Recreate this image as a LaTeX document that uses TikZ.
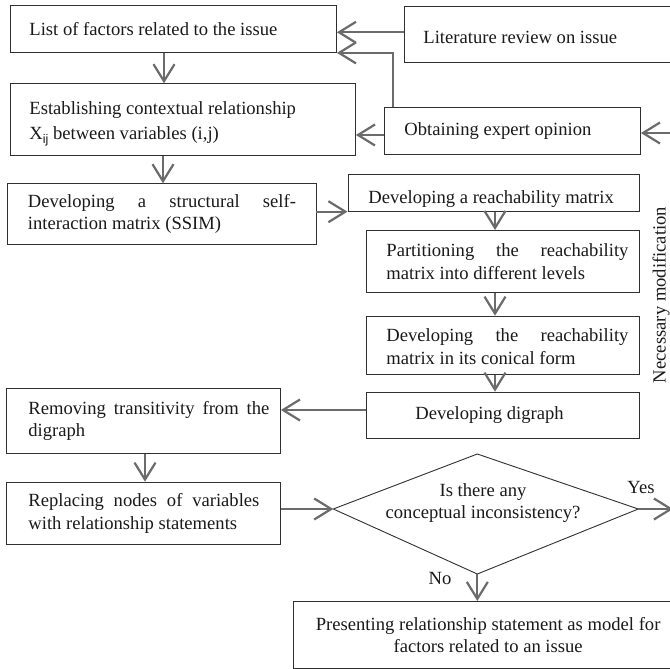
\documentclass[tikz,border=0pt]{standalone}
\usepackage{fontspec}
\setmainfont{Liberation Serif}
\setsansfont{Liberation Sans}
\usetikzlibrary{arrows.meta,calc}
\definecolor{linegray}{HTML}{6B6B6B}
\definecolor{boxline}{HTML}{303030}
\definecolor{txt}{HTML}{1A1A1A}
\newcommand{\fsz}{\fontsize{18.6}{22.3}\selectfont}
\newcommand{\fszw}{\fontsize{18.6}{23.3}\selectfont}
\newcommand{\mybox}[5]{\hspace*{#1pt}\parbox[c]{#2pt}{\vspace*{#4pt}\hyphenpenalty=10000 \exhyphenpenalty=0 \hbadness=10000 #5}\hspace*{#3pt}}
\begin{document}
\begin{tikzpicture}[x=1pt,y=-1pt,
  box/.style={draw=boxline, line width=0.9pt, inner sep=0pt, anchor=north west, font=\fsz, text=txt},
  arr/.style={draw=linegray, line width=2.2pt, -{Straight Barb[length=17pt,width=21pt]}},
  lbl/.style={font=\fsz, text=txt, inner sep=0pt}]
\useasboundingbox (0,0) rectangle (670,669);
\clip (0,0) rectangle (670,669);
\fill[white] (0,0) rectangle (670,669);

\node[box, minimum width=326.5pt, minimum height=46.5pt] (lof) at (9.5,5.5) {\mybox{19.5}{287}{20}{0}{List of factors related to the issue}};
\node[box, minimum width=286.5pt, minimum height=56.5pt] (lit) at (403.5,6) {\mybox{19.5}{247}{20}{5}{Literature review on issue}};
\node[box, minimum width=345.5pt, minimum height=71.7pt] (est) at (9.5,83.3) {\mybox{19.5}{306}{20}{8}{Establishing contextual relationship\\[2.7pt] X\raisebox{-4pt}{\fontsize{12.5}{12.5}\sffamily ij} between variables (i,j)}};
\node[box, minimum width=256pt, minimum height=46.5pt] (obt) at (384,107.5) {\mybox{20}{216}{20}{0}{Obtaining expert opinion}};
\node[box, minimum width=309pt, minimum height=61pt] (ssim) at (6.5,183.3) {\mybox{21}{268}{20}{0}{Developing a structural self-interaction matrix (SSIM)}};
\node[box, minimum width=291.5pt, minimum height=36.7pt] (reach) at (347.5,174) {\mybox{20.5}{271}{0}{12}{Developing a reachability matrix}};
\node[box, minimum width=273.3pt, minimum height=62.3pt] (part) at (365.7,230) {\mybox{20.3}{242}{11}{0}{\fszw Partitioning the reachability matrix into different levels}};
\node[box, minimum width=273.3pt, minimum height=58.7pt] (con) at (365.7,315.7) {\mybox{20.3}{242}{11}{2}{\fszw Developing the reachability matrix in its conical form}};
\node[box, minimum width=273pt, minimum height=46.5pt] (dig) at (366,391.7) {\mybox{49}{200}{24}{0}{Developing digraph}};
\node[box, minimum width=273.6pt, minimum height=65.7pt] (rem) at (6.4,387.5) {\mybox{21.6}{241}{11}{0}{Removing transitivity from the digraph}};
\node[box, minimum width=273.6pt, minimum height=62.6pt] (rep) at (6.4,481.7) {\mybox{21.6}{231}{21}{0}{Replacing nodes of variables with relationship statements}};
\node[box, minimum width=390pt, minimum height=66.7pt] (pres) at (292.7,601) {\mybox{0}{390}{0}{0}{\centering Presenting relationship statement as model for\\ factors related to an issue}};

\coordinate (dT) at (477.3,454);
\coordinate (dL) at (333.3,509);
\coordinate (dR) at (638.3,509);
\coordinate (dB) at (477.3,574);
\draw[draw=boxline, line width=0.9pt] (dT) -- (dR) -- (dB) -- (dL) -- cycle;
\node[lbl, align=center] (dq) at (483,503) {Is there any\\conceptual inconsistency?};

\node[lbl] (yes) at (641,487) {Yes};
\node[lbl] (no) at (440,578) {No};
\node[lbl, rotate=90] (nm) at (661,295) {Necessary modification};

\coordinate (e1) at (672,133);
\coordinate (e2) at (673,509);

\draw[arr] (lit.west |- 0,32.3) -- (lof.east |- 0,32.3);
\draw[arr] ($(obt.north west)+(9,0)$) |- (lof.south east);
\draw[arr] (lof.south -| 164,0) -- (est.north -| 164,0);
\draw[arr] (obt.west |- 0,135) -- (est.east |- 0,135);
\draw[arr] (e1) -- (obt.east |- e1);
\draw[arr] (est.south -| 163,0) -- (ssim.north -| 163,0);
\draw[arr] (ssim.east |- 0,211.7) -- (reach.west |- 0,211.7);
\draw[arr] (reach.south -| 495,0) -- (part.north -| 495,0);
\draw[arr] (part.south -| 495,0) -- (con.north -| 495,0);
\draw[arr] (con.south -| 495,0) -- (dig.north -| 495,0);
\draw[arr] (dig.west |- 0,410) -- (rem.east |- 0,410);
\draw[arr] (rem.south -| 145,0) -- (rep.north -| 145,0);
\draw[arr] (rep.east |- dL) -- (dL);
\draw[arr] (dR) -- (e2);
\draw[arr] (dB) -- (pres.north -| dB);
\end{tikzpicture}
\end{document}
